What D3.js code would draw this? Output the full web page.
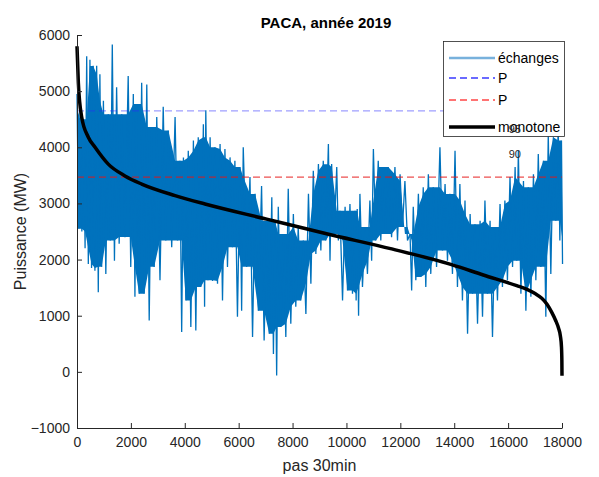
<!DOCTYPE html>
<html>
<head>
<meta charset="utf-8">
<script src="https://cdn.jsdelivr.net/npm/d3@7"></script>
<style>
  body { margin: 0; background: #fff; }
  svg text { font-family: "Liberation Sans", Arial, Helvetica, sans-serif; }
</style>
</head>
<body>
<svg id="chart" width="599" height="477"></svg>
<script>
// ---- data ----
const title = "PACA, année 2019";
const xLabel = "pas 30min";
const yLabel = "Puissance (MW)";
const xTicks = [0, 2000, 4000, 6000, 8000, 10000, 12000, 14000, 16000, 18000];
const yTicks = [-1000, 0, 1000, 2000, 3000, 4000, 5000, 6000];

// "échanges" series: local high / low envelope of the half-hourly values
const echIdx = [0,120,240,360,480,600,730,850,980,1160,1310,1470,1660,1900,2090,2210,2400,2590,2770,2960,
  3200,3390,3640,3820,3950,4130,4320,4500,4690,4780,4940,5120,5310,5490,5680,5860,6050,6170,6420,6610,
  6850,7040,7230,7350,7470,7660,7840,8030,8210,8400,8590,8770,8960,9140,9330,9450,9640,9760,9950,10130,
  10320,10400,10500,10690,10870,11000,11180,11370,11550,11800,11990,12170,12360,12480,12670,12850,13040,13220,13470,13660,
  13840,14030,14210,14400,14590,14770,14960,15140,15330,15510,15700,15880,16070,16260,16380,16570,16750,16940,17120,17310,
  17490,17680,17860,17980];
const echHigh = [4950,4700,4500,5620,5560,5450,5450,5300,4830,4590,5830,5070,4590,5270,4950,4770,5150,5120,4360,4540,
  4720,4300,4540,3760,3820,3940,4120,4180,4410,4660,4180,4000,4060,3970,3820,3760,3650,4000,3470,3170,
  3310,2690,3110,2690,2940,2455,3260,2810,2580,2340,3170,3580,3700,3760,4060,3700,3650,2870,2940,2990,
  2870,2900,3170,2580,3050,3970,3760,3650,3650,3650,3520,3400,2455,2940,3170,3290,3520,3290,4000,3345,
  3170,3940,3345,3050,2810,2630,2690,3050,2690,2580,2990,3050,3470,3650,3940,3400,3290,3520,3880,3760,
  4230,4180,4350,4120];
const echLow = [2550,2500,2200,1920,1850,1800,1420,1870,1745,2340,1980,2280,2400,1870,1340,1390,1390,915,1870,1630,
  2340,2220,2340,710,1270,800,735,1510,1160,1630,1620,1570,1270,1870,2220,980,1090,1870,620,1090,
  560,680,320,-65,800,620,855,1160,1270,1030,1570,2100,2160,2340,1980,2455,2340,1270,1450,1390,
  1270,1000,1510,1745,1980,2340,2340,2455,2400,2340,2580,2340,1450,1630,1690,1510,1745,1870,2160,1980,
  1745,1510,1270,680,1390,855,980,1390,620,1270,1510,1630,1870,1980,1390,1090,1340,1630,1870,980,
  1745,2690,2340,1920];

// "monotone" (sorted load curve)
const monoIdx = [0,50,170,420,670,1160,1780,2400,3640,4750,7040,9300,11680,13900,15080,16320,16700,17000,17250,17450,17620,17760,17870,17940,17980,17995,18000];
const monoVal = [5800,5150,4550,4180,4000,3700,3490,3345,3140,2990,2720,2455,2190,1910,1725,1535,1470,1395,1310,1200,1060,920,780,640,450,200,-70];

// percentile levels
const pLevels = [4650, 3470];          // P95, P90
const pNames = ["95", "90"];
const pLabelX = [16250, 16250];
const pLabelY = [4330, 3880];

const legendLabels = ["échanges", "P", "P", "monotone"];

// ---- drawing ----
const svg = d3.select("#chart");
const L = 77, R = 562, T = 35, B = 428;
const x = d3.scaleLinear().domain([0, 18000]).range([L, R]);
const y = d3.scaleLinear().domain([-1000, 6000]).range([B, T]);
const axisColor = "#262626";
const blue = "#0072BD";

// échanges: high points and low points alternate along the series
const n = echIdx.length;
const echPts = echIdx.map((d, i) => ({
  i: d, hi: echHigh[i], lo: echLow[i],
  mid: (d + (i < n - 1 ? echIdx[i + 1] : d + 80)) / 2
}));
// dense core: where neighbouring samples overlap, the trace is solid
const coreHi = echPts.map((p, i) => [x(p.i), y(d3.min([echHigh[Math.max(0, i - 1)], echHigh[i], echHigh[Math.min(n - 1, i + 1)]]))]);
const coreLo = echPts.map((p, i) => [x(p.mid), y(d3.max([echLow[Math.max(0, i - 1)], echLow[i], echLow[Math.min(n - 1, i + 1)]]))]).reverse();
svg.append("path")
  .attr("d", "M" + coreHi.concat(coreLo).map(p => p.join(",")).join("L") + "Z")
  .attr("fill", blue).attr("stroke", "none");
// spiky trace
const zig = [];
echPts.forEach(p => { zig.push([p.i, p.hi]); zig.push([p.mid, p.lo]); });
const line = d3.line().x(d => x(d[0])).y(d => y(d[1]));
svg.append("path").datum(zig)
  .attr("d", line).attr("fill", "none")
  .attr("stroke", blue).attr("stroke-width", 1.3);

// dashed percentile lines
const pColors = ["rgba(40,40,255,0.45)", "rgba(230,20,20,0.75)"];
pLevels.forEach((v, i) => {
  svg.append("line")
    .attr("x1", x(0)).attr("x2", x(18000))
    .attr("y1", y(v)).attr("y2", y(v))
    .attr("stroke", pColors[i]).attr("stroke-width", 1.3)
    .attr("stroke-dasharray", "7,4");
});

// monotone
const monoLine = d3.line().x((d, i) => x(monoIdx[i])).y(d => y(d)).curve(d3.curveMonotoneX);
svg.append("path").datum(monoVal)
  .attr("d", monoLine).attr("fill", "none")
  .attr("stroke", "#000").attr("stroke-width", 3.5);

// axes
const fmt = d3.format("d");
const yAxis = d3.axisLeft(y).tickValues(yTicks).tickFormat(fmt).tickSizeInner(-5).tickSizeOuter(0).tickPadding(7);
const gy = svg.append("g").attr("transform", `translate(${L},0)`).call(yAxis);
const xAxis = d3.axisBottom(x).tickValues(xTicks).tickFormat(fmt).tickSizeInner(-5).tickSizeOuter(0).tickPadding(9);
const gx = svg.append("g").attr("transform", `translate(0,${B})`).call(xAxis);
[gx, gy].forEach(g => {
  g.select(".domain").attr("stroke", axisColor).attr("stroke-width", 1);
  g.selectAll(".tick line").attr("stroke", axisColor);
  g.selectAll(".tick text").attr("fill", axisColor)
    .style("font-size", "14px").style("font-family", '"Liberation Sans", Arial, sans-serif');
});

// labels
svg.append("text").attr("x", 326).attr("y", 28).attr("text-anchor", "middle")
  .style("font-size", "15px").style("font-weight", "bold").attr("fill", "#000").text(title);
svg.append("text").attr("x", (L + R) / 2).attr("y", 471).attr("text-anchor", "middle")
  .style("font-size", "16px").attr("fill", axisColor).text(xLabel);
svg.append("text").attr("transform", `translate(26,${(T + B) / 2}) rotate(-90)`)
  .attr("text-anchor", "middle").style("font-size", "16px").attr("fill", axisColor).text(yLabel);

// legend
const lg = svg.append("g");
lg.append("rect").attr("x", 443.5).attr("y", 41.5).attr("width", 121).attr("height", 95)
  .attr("fill", "#fff").attr("stroke", axisColor).attr("stroke-width", 0.8);
const legY = [58, 78, 100, 127];
const legStroke = ["#78b1dc", "#3a3aff", "#ff4545", "#000"];
const legWidth = [2.5, 1.3, 1.3, 3.5];
const legDash = [null, "7,4", "7,4", null];
legendLabels.forEach((t, i) => {
  lg.append("line").attr("x1", 449).attr("x2", 495).attr("y1", legY[i]).attr("y2", legY[i])
    .attr("stroke", legStroke[i]).attr("stroke-width", legWidth[i])
    .attr("stroke-dasharray", legDash[i]);
  lg.append("text").attr("x", 498).attr("y", legY[i]).attr("dy", "0.35em")
    .style("font-size", "14px").attr("fill", "#000").text(t);
});

// percentile number labels
pNames.forEach((t, i) => {
  svg.append("text").attr("x", x(pLabelX[i])).attr("y", y(pLabelY[i])).attr("dy", "0.35em")
    .attr("text-anchor", "middle").style("font-size", "11px").attr("fill", axisColor).text(t);
});
</script>
</body>
</html>
